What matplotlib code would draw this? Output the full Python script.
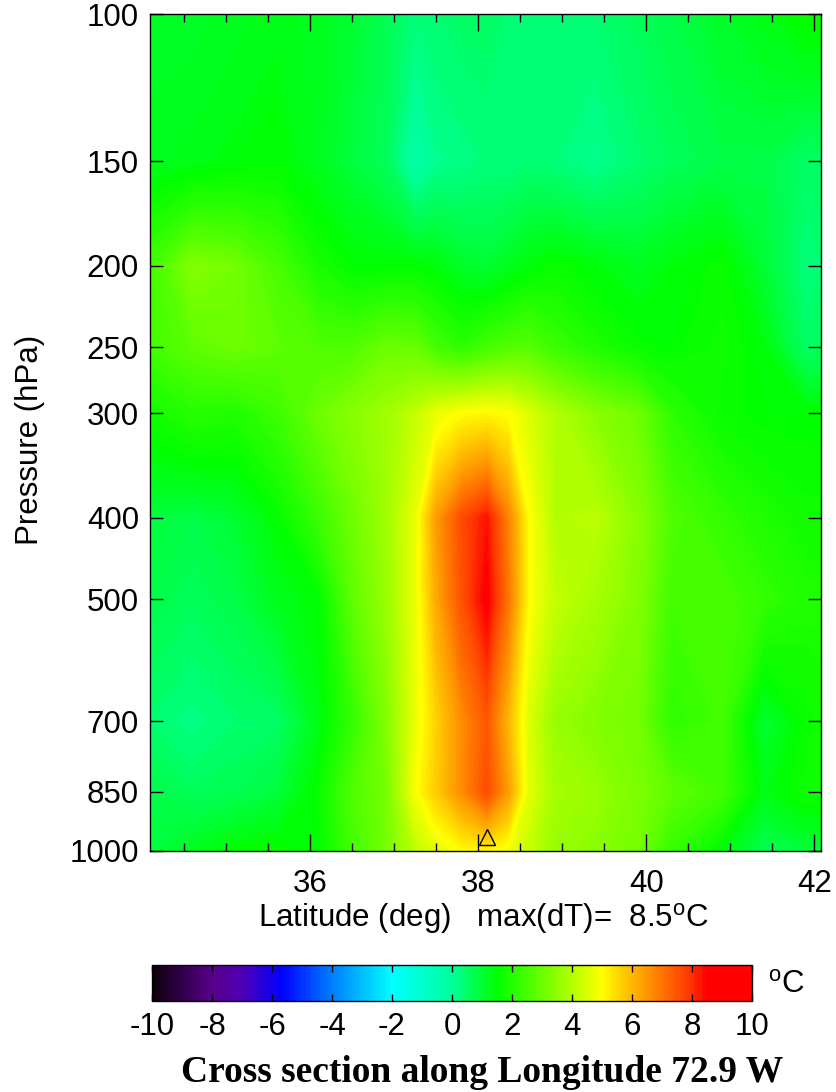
import numpy as np
import matplotlib
matplotlib.use("Agg")
import matplotlib.pyplot as plt
from matplotlib.colors import LinearSegmentedColormap
from matplotlib.ticker import MultipleLocator, FixedLocator, NullLocator

plt.rcParams['font.family'] = ['Liberation Sans', 'DejaVu Sans']
plt.rcParams['mathtext.fontset'] = 'custom'
plt.rcParams['mathtext.rm'] = 'Liberation Sans'

# ---- data (temperature anomaly, deg C) ----
lats = [34.1, 34.6, 35.1, 35.6, 36.1, 36.5, 36.9, 37.25, 37.5, 37.8, 38.1,
        38.35, 38.6, 38.9, 39.4, 39.9, 40.3, 40.9, 41.4, 41.9, 42.1]
levels = [100, 150, 200, 250, 300, 400, 500, 700, 850, 1000]

dT_100 = [1.1, 1.1, 1.2, 1.3, 1.2, 1.0, 0.7, 0.3, 0.4, 0.5, 0.5, 0.4, 0.4, 0.4, 0.4, 0.6, 0.8, 1.1, 1.3, 1.6, 1.6]
dT_150 = [1.2, 1.3, 1.4, 1.5, 1.2, 0.9, 0.6, -0.3, 0.1, 0.2, 0.3, 0.3, 0.4, 0.3, 0.1, 0.4, 0.6, 0.8, 0.8, 0.5, 0.5]
dT_200 = [2.4, 3.3, 3.1, 2.5, 1.8, 1.5, 1.5, 1.5, 1.4, 1.1, 1.0, 1.2, 1.4, 1.6, 1.4, 1.2, 1.4, 1.6, 1.0, 0.3, 0.4]
dT_250 = [2.4, 2.8, 3.0, 2.8, 2.6, 2.6, 3.0, 2.9, 2.4, 2.1, 2.4, 2.6, 2.7, 2.3, 1.9, 1.6, 1.5, 1.7, 1.4, 0.5, 0.6]
dT_300 = [1.7, 2.0, 1.9, 2.3, 3.0, 3.4, 3.7, 4.2, 4.7, 5.0, 5.1, 5.0, 4.5, 4.0, 3.4, 3.0, 2.1, 1.6, 1.5, 1.5, 1.5]
dT_400 = [0.9, 0.8, 1.0, 1.5, 2.3, 3.0, 3.7, 4.7, 6.4, 7.6, 8.3, 6.8, 5.0, 4.0, 4.1, 3.4, 2.6, 2.2, 1.9, 1.7, 1.7]
dT_500 = [0.8, 0.6, 0.8, 1.2, 1.5, 2.8, 3.6, 4.7, 6.2, 7.5, 8.6, 7.0, 5.0, 4.2, 3.8, 3.3, 2.4, 2.5, 2.2, 1.9, 1.9]
dT_700 = [0.4, 0.2, 0.4, 0.5, 1.3, 2.2, 3.3, 4.7, 5.6, 6.6, 7.4, 6.0, 4.5, 3.6, 3.3, 3.1, 2.1, 2.4, 1.0, 1.6, 1.7]
dT_850 = [0.8, 0.6, 0.7, 0.9, 1.6, 2.6, 3.1, 4.9, 5.7, 6.6, 7.6, 6.4, 4.6, 3.8, 3.6, 3.2, 2.8, 2.4, 1.3, 1.7, 1.7]
dT_1000 = [0.9, 1.2, 1.5, 1.6, 1.5, 2.4, 3.1, 4.1, 4.6, 5.0, 5.1, 4.8, 4.2, 3.6, 3.4, 3.1, 2.2, 1.4, 0.7, 0.9, 0.9]

max_dT = 8.5
site_lat, site_p = 38.1, 962

cbar_ticks = [-10, -8, -6, -4, -2, 0, 2, 4, 6, 8, 10]

# colour table (value, colour)
ct = [(-10, (0.05, 0.0, 0.05)), (-8, (0.35, 0.0, 0.55)), (-7, (0.3, 0.0, 0.72)),
      (-5.7, (0.0, 0.0, 1.0)), (-4, (0.0, 0.5, 1.0)), (-2, (0.0, 1.0, 1.0)),
      (0, (0.0, 1.0, 0.6)), (1.5, (0.0, 1.0, 0.0)), (4, (0.7, 1.0, 0.0)),
      (5, (1.0, 1.0, 0.0)), (6, (1.0, 0.72, 0.0)), (8, (1.0, 0.2, 0.0)),
      (8.5, (1.0, 0.0, 0.0)), (10, (1.0, 0.0, 0.0))]
cmap = LinearSegmentedColormap.from_list('dt', [((v + 10) / 20.0, c) for v, c in ct])

field = np.array([dT_100, dT_150, dT_200, dT_250, dT_300,
                  dT_400, dT_500, dT_700, dT_850, dT_1000])

fs = 22.5

fig = plt.figure(figsize=(8.36, 10.92), dpi=100)
ax = fig.add_axes([150/836, 1-851/1092, 671/836, 837/1092])

cs = ax.contourf(lats, levels, field, levels=np.linspace(-10, 10, 401),
                 cmap=cmap, vmin=-10, vmax=10)
ax.plot(site_lat, site_p, marker='^', ms=11, mfc='none', mec='black', mew=1.0, ls='none')

ax.set_yscale('log')
ax.set_ylim(1000, 100)
ax.set_xlim(34.09, 42.08)
ax.yaxis.set_major_locator(FixedLocator(levels))
ax.yaxis.set_minor_locator(NullLocator())
ax.set_yticklabels([str(p) for p in levels])
ax.xaxis.set_major_locator(FixedLocator([36, 38, 40, 42]))
ax.xaxis.set_minor_locator(MultipleLocator(0.5))
ax.tick_params(axis='x', which='major', direction='in', top=True, length=12, width=1, labelsize=fs, pad=13)
ax.tick_params(axis='x', which='minor', direction='in', top=True, length=5.5, width=1)
ax.tick_params(axis='y', which='major', direction='in', right=True, length=9.5, width=1, labelsize=fs, pad=8)
for s in ax.spines.values():
    s.set_linewidth(1.0)

fig.text(483/836, 1-918/1092, 'Latitude (deg)   max(dT)=  %.1f$^{\\rm o}$C' % max_dT,
         ha='center', va='center', fontsize=fs)
fig.text(30/836, 1-440/1092, 'Pressure (hPa)', rotation=90, ha='center', va='center', fontsize=fs)

cax = fig.add_axes([152/836, 1-1001/1092, 600/836, 36/1092])
cb = fig.colorbar(cs, cax=cax, orientation='horizontal', ticks=cbar_ticks)
cb.outline.set_linewidth(1.0)
cax.tick_params(direction='in', top=True, bottom=True, length=5, width=1, labelsize=fs, pad=8)
cax.set_xticklabels([str(t) for t in cbar_ticks])
fig.text(786/836, 1-985/1092, '$^{\\rm o}$C', ha='center', va='center', fontsize=fs)

fig.text(482/836, 1-1073/1092, 'Cross section along Longitude 72.9 W', ha='center', va='center',
         fontsize=27, fontweight='bold', family='Liberation Serif')

fig.savefig('out.png', dpi=100)
